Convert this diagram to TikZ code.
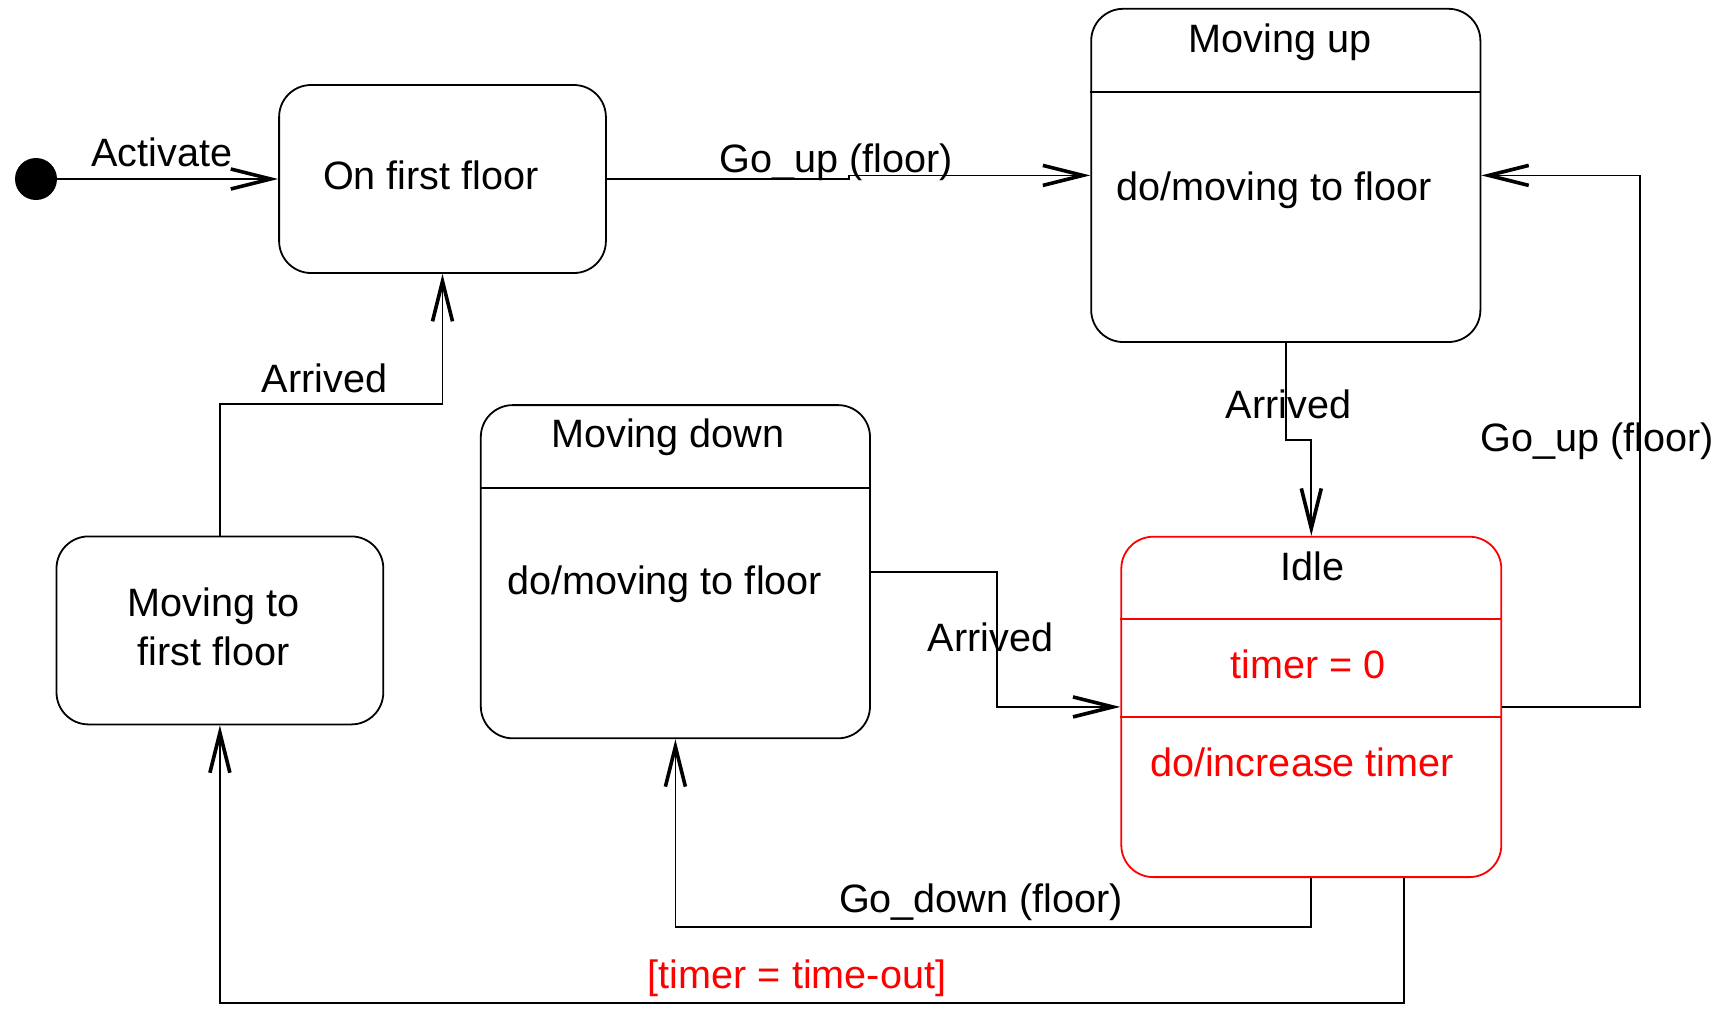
\documentclass[tikz,border=0pt]{standalone}
\usepackage{fontspec}
\setmainfont{Liberation Sans}
\usepackage{tikz}
\usetikzlibrary{arrows.meta, positioning, calc}
\tikzset{
    statebox/.style={rectangle, rounded corners=16pt, draw=black, line width=0.9pt,
        fill=white, inner sep=0pt},
    idlebox/.style={statebox, draw=red},
    initdot/.style={circle, fill=black, minimum size=21pt, inner sep=0pt},
    trans/.style={-{Straight Barb[length=20pt, width=10pt, line width=1.8pt]}, line width=0.9pt},
    lbl/.style={anchor=base, inner sep=0pt, font=\fontsize{19.8}{24.5}\selectfont},
    redlbl/.style={lbl, text=red},
}

\begin{document}
\begin{tikzpicture}[x=0.5pt, y=-0.5pt]
    \useasboundingbox (0,0) rectangle (1731,1009);

    % States
    \node[initdot] (init) at (36,179) {};
    \node[statebox, minimum width=163.4pt, minimum height=94pt] (first) at (442.5,179) {};
    \node[lbl] (firstText) at (431,189.3) {On first floor};

    \node[statebox, minimum width=194.6pt, minimum height=166.6pt] (up) at (1285.8,175.4) {};
    \draw[line width=0.9pt] ([yshift=-42pt]up.north west) -- ([yshift=-42pt]up.north east);
    \node[lbl] (upTitle) at (1280,52.7) {Moving up};
    \node[lbl] (upDo) at (1274,200.7) {do/moving to floor};

    \node[statebox, minimum width=194.6pt, minimum height=166.6pt] (down) at (675.4,571.7) {};
    \draw[line width=0.9pt] ([yshift=-41.8pt]down.north west) -- ([yshift=-41.8pt]down.north east);
    \node[lbl] (downTitle) at (668,447.3) {Moving down};
    \node[lbl] (downDo) at (664.7,594) {do/moving to floor};

    \node[statebox, minimum width=163.4pt, minimum height=94pt] (tofirst) at (219.9,630.4) {};
    \node[lbl, anchor=center, align=center] (tofirstText) at (213.7,627) {Moving to\\first floor};

    \node[idlebox, minimum width=190pt, minimum height=170.2pt] (idle) at (1311.3,706.9) {};
    \draw[red, line width=0.9pt] ([yshift=-41.7pt]idle.north west) -- ([yshift=-41.7pt]idle.north east);
    \draw[red, line width=0.9pt] ([yshift=-90.5pt]idle.north west) -- ([yshift=-90.5pt]idle.north east);
    \node[lbl] (idleTitle) at (1312.7,580) {Idle};
    \node[redlbl] (idleEntry) at (1308,678.3) {timer = 0};
    \node[redlbl] (idleDo) at (1302,776.7) {do/increase timer};

    % Transitions
    \draw[trans] (init) -- (first.west);
    \node[lbl] (lblActivate) at (162,166.7) {Activate};

    \draw[trans] (first.east) -- ++(242,0) |- (up.west);
    \node[lbl] (lblGoUpA) at (836.5,172) {Go\_up (floor)};

    \draw[trans] (idle.east) -- ++(138,0) |- (up.east);
    \node[lbl] (lblGoUpB) at (1597.5,451.7) {Go\_up (floor)};

    \draw[trans] (up.south) -- ++(0,97) -| (idle.north);
    \node[lbl] (lblArrivedA) at (1288.4,418.3) {Arrived};

    \draw[trans] (down.east) -- ++(126,0) |- (idle.west);
    \node[lbl] (lblArrivedB) at (990.5,651.7) {Arrived};

    \draw[trans] (idle.south) -- ++(0,48.7) -| (down.south);
    \node[lbl] (lblGoDown) at (981,912.7) {Go\_down (floor)};

    \draw[trans] ([xshift=46.25pt]idle.south) -- ++(0,125) -| (tofirst.south);
    \node[redlbl] (lblTimeout) at (797,988) {[timer = time-out]};

    \draw[trans] (tofirst.north) -- ++(0,-131.4) -| (first.south);
    \node[lbl] (lblArrivedC) at (324.7,392.7) {Arrived};
\end{tikzpicture}
\end{document}
